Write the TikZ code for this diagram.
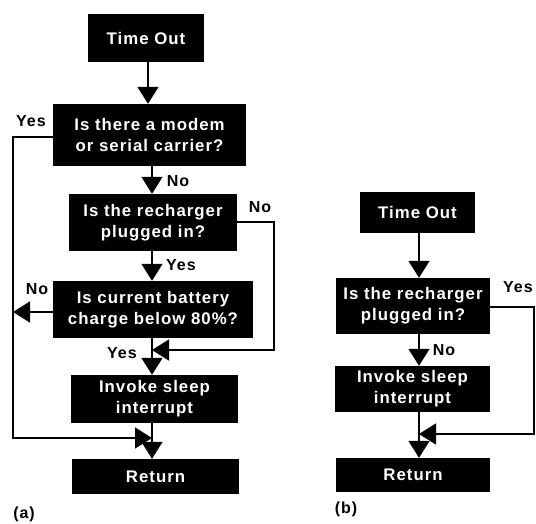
\documentclass[tikz,border=0pt]{standalone}
\usepackage{fontspec}
\setmainfont{Liberation Sans}[LetterSpace=6]
\usetikzlibrary{arrows.meta,calc}
\begin{document}
\begin{tikzpicture}[x=1pt,y=-1pt,
  box/.style 2 args={fill=black, text=white, font=\bfseries\fontsize{16.8}{21}\selectfont,
     align=center, inner sep=0pt, minimum width=#1, minimum height=#2},
  lab/.style={font=\bfseries\fontsize{16}{18}\selectfont, inner sep=0pt},
  arr/.style={line width=1.5pt, -{Triangle[width=21pt,length=17pt]}},
  ln/.style={line width=1.5pt}]
\useasboundingbox (0,0) rectangle (536,523);
% ---------- (a) ----------
\node[box={116pt}{48pt}] (to1) at (146,38) {Time Out};
\node[box={193pt}{62pt}] (q1) at (149.5,135) {Is there a modem\\or serial carrier?};
\node[box={168pt}{57pt}] (q2) at (153,222.5) {Is the recharger\\plugged in?};
\node[box={200pt}{57pt}] (q3) at (153,309.5) {Is current battery\\charge below 80\%?};
\node[box={167pt}{48pt}] (inv) at (154.5,399) {Invoke sleep\\interrupt};
\node[box={167pt}{35pt}] (ret) at (155.5,476.5) {Return};
\coordinate (ca1) at (148,0);
\coordinate (ca) at (152,0);
\draw[arr] (to1.south -| ca1) -- (q1.north -| ca1);
\draw[arr] (q1.south -| ca) -- (q2.north -| ca);
\draw[arr] (q2.south -| ca) -- (q3.north -| ca);
\draw[arr] (q3.south -| ca) -- (inv.north -| ca);
\draw[arr] (inv.south -| ca) -- (ret.north -| ca);
\coordinate (yl) at (13,137);
\coordinate (yb) at (13,438);
\draw[arr] (q1.west |- yl) -- (yl) -- (yb) -- (yb -| ca);
\coordinate (nr) at (274,222);
\coordinate (nb) at (274,350);
\draw[arr] (q2.east |- nr) -- (nr) -- (nb) -- (nb -| ca);
\coordinate (nl) at (13,312);
\draw[arr] (q3.west |- nl) -- (nl);
\node[lab] (l1) at (31,121) {Yes};
\node[lab] (l2) at (178,181) {No};
\node[lab] (l3) at (260,207) {No};
\node[lab] (l4) at (181,265) {Yes};
\node[lab] (l5) at (37,289) {No};
\node[lab] (l6) at (122,353) {Yes};
\node[lab] (ta) at (24,514) {(a)};
% ---------- (b) ----------
\node[box={115pt}{41pt}] (to2) at (417.5,212.5) {Time Out};
\node[box={154pt}{56pt}] (q4) at (413,306) {Is the recharger\\plugged in?};
\node[box={155pt}{46pt}] (inv2) at (412.5,389) {Invoke sleep\\interrupt};
\node[box={154pt}{34pt}] (ret2) at (413,475) {Return};
\coordinate (cb) at (419,0);
\draw[arr] (to2.south -| cb) -- (q4.north -| cb);
\draw[arr] (q4.south -| cb) -- (inv2.north -| cb);
\draw[arr] (inv2.south -| cb) -- (ret2.north -| cb);
\coordinate (yr) at (534,307);
\coordinate (ybb) at (534,434);
\draw[arr] (q4.east |- yr) -- (yr) -- (ybb) -- (ybb -| cb);
\node[lab, anchor=west] (l7) at (503,287) {Yes};
\node[lab] (l8) at (444,350) {No};
\node[lab] (tb) at (346,509) {(b)};
\end{tikzpicture}
\end{document}
